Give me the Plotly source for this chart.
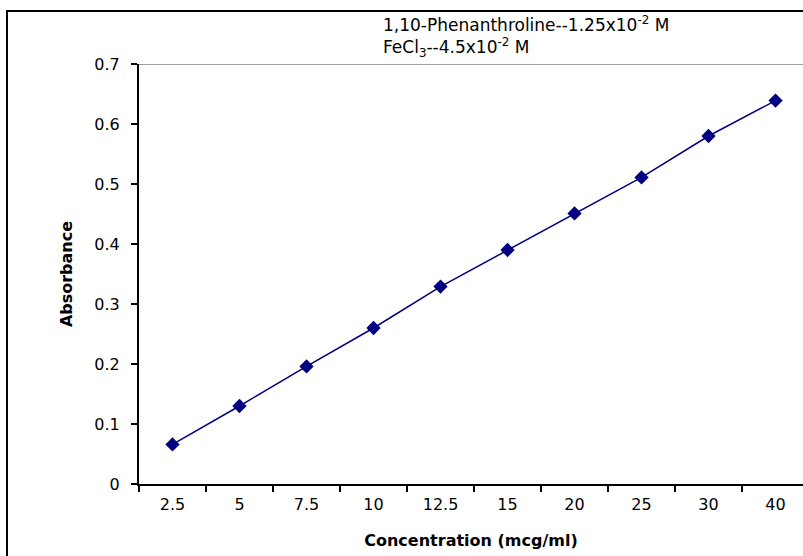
import plotly.graph_objects as go

concentration = ["2.5", "5", "7.5", "10", "12.5", "15", "20", "25", "30", "40"]
absorbance = [0.066, 0.130, 0.196, 0.260, 0.329, 0.390, 0.451, 0.511, 0.580, 0.639]
y_ticks = [0, 0.1, 0.2, 0.3, 0.4, 0.5, 0.6, 0.7]

W, H = 803, 556
L, R, T, B = 139, 0, 64, 72
pw, ph = W - L - R, H - T - B

def px_x(x):
    return (x - L) / pw

def px_y(y):
    return (H - B - y) / ph

navy = "#000080"
font_fam = "DejaVu Sans, Arial, sans-serif"

fig = go.Figure()
fig.add_trace(go.Scatter(
    x=concentration, y=absorbance, mode="lines+markers",
    line=dict(color=navy, width=1.5),
    marker=dict(symbol="diamond", size=11, color=navy),
    showlegend=False,
))

fig.update_layout(
    width=W, height=H,
    margin=dict(l=L, r=R, t=T, b=B),
    paper_bgcolor="white", plot_bgcolor="white",
    font=dict(family=font_fam, color="black", size=16),
    xaxis=dict(
        type="category", categoryorder="array", categoryarray=concentration,
        range=[-0.5, 9.41], tickson="boundaries",
        ticks="outside", ticklen=6, tickwidth=1.5, tickcolor="black",
        showline=True, linecolor="black", linewidth=2,
        showgrid=False, zeroline=False,
        tickfont=dict(size=16), ticklabelstandoff=5,
        title=dict(text="<b>Concentration (mcg/ml)</b>", font=dict(size=16), standoff=22),
    ),
    yaxis=dict(
        range=[0, 0.7], tickvals=y_ticks, ticktext=[str(v) for v in y_ticks],
        ticks="outside", ticklen=6, tickwidth=1.5, tickcolor="black",
        showline=True, linecolor="black", linewidth=2,
        showgrid=False, zeroline=False,
        tickfont=dict(size=16), ticklabelstandoff=8,
        title=dict(text="<b>Absorbance</b>", font=dict(size=16), standoff=18),
    ),
    shapes=[
        dict(type="line", xref="paper", yref="y", x0=0, x1=1.02, y0=0.7, y1=0.7,
             line=dict(color="#808080", width=1.5)),
        dict(type="rect", xref="paper", yref="paper",
             x0=px_x(7), x1=px_x(830), y0=px_y(600), y1=px_y(11),
             line=dict(color="black", width=2), fillcolor="rgba(0,0,0,0)"),
    ],
    annotations=[
        dict(xref="paper", yref="paper", x=px_x(381), y=px_y(24),
             xanchor="left", yanchor="middle", showarrow=False,
             text="1,10-Phenanthroline--1.25x10<sup>-2</sup> M", font=dict(size=17)),
        dict(xref="paper", yref="paper", x=px_x(381), y=px_y(48),
             xanchor="left", yanchor="middle", showarrow=False,
             text="FeCl<sub>3</sub>--4.5x10<sup>-2</sup> M", font=dict(size=17)),
    ],
)

fig.write_html("out.html")
